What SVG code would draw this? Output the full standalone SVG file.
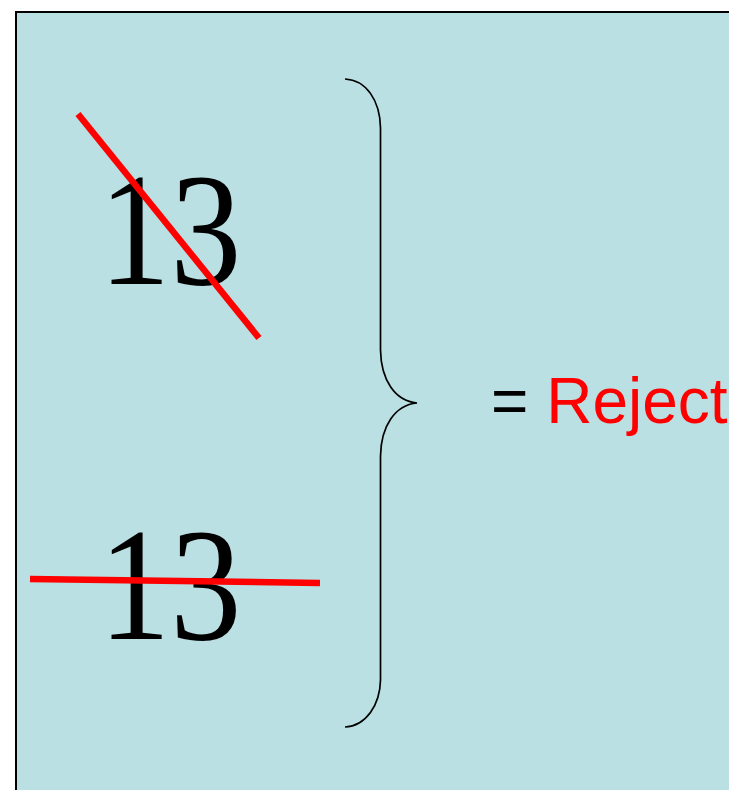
<svg xmlns="http://www.w3.org/2000/svg" width="729" height="790" viewBox="0 0 729 790">
<style>
.num{font-family:"Liberation Serif","Times New Roman",serif;font-size:160px;fill:#000}
.strike{stroke:#ff0000;stroke-width:6.5;fill:none}
.lbl{font-family:"Liberation Sans",Arial,sans-serif;font-size:64px}
</style>
<rect x="16" y="12" width="730" height="790" fill="#bae0e3" stroke="#000" stroke-width="2"/>
<g id="top13">
<text class="num" transform="translate(99,284) scale(0.89,1)">13</text>
<line class="strike" x1="78" y1="114" x2="259" y2="338"/>
</g>
<g id="bottom13">
<text class="num" transform="translate(99,639) scale(0.89,1)">13</text>
<line class="strike" x1="30" y1="579" x2="320" y2="583"/>
</g>
<g id="brace">
<path d="M345,79 C366,80 380,100 380.5,128 L380.5,350 C381,380 395,401 417,403 C395,405 381,426 380.5,456 L380.5,680 C380,705 366,726 345,727" fill="none" stroke="#000" stroke-width="1.7"/>
</g>
<g id="result">
<text class="lbl" x="491" y="423"><tspan fill="#000">= </tspan><tspan fill="#ff0000">Reject</tspan></text>
</g>
</svg>
